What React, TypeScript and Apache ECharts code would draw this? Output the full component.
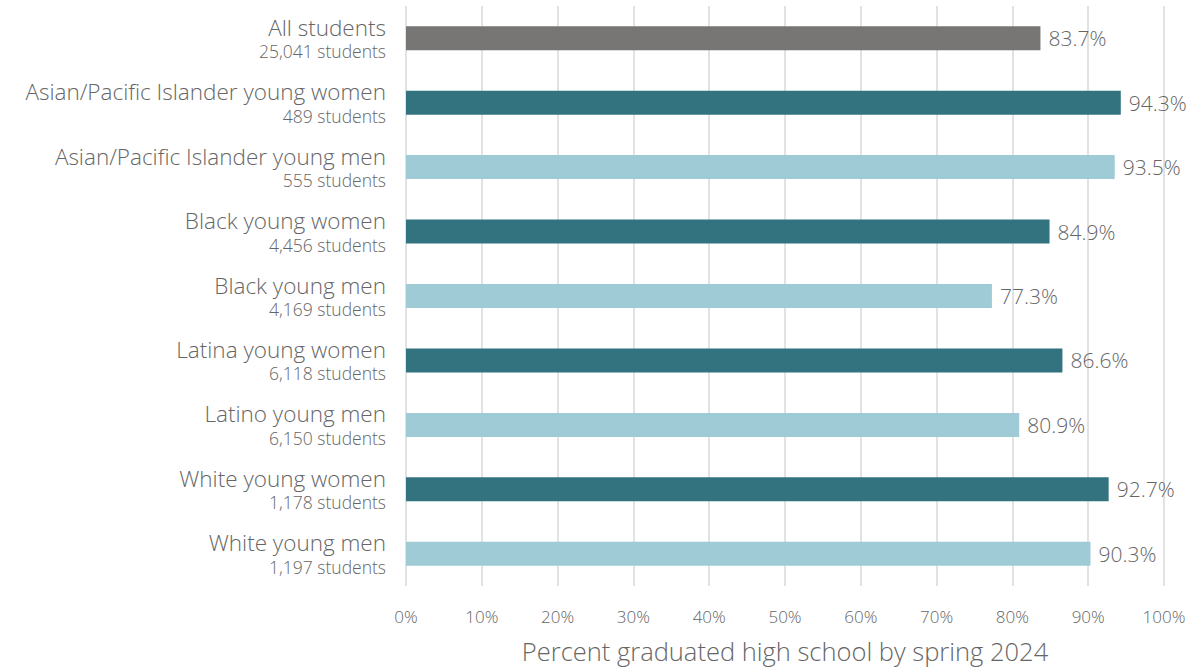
import React, { useEffect, useRef } from "react";
import * as echarts from "echarts";

const categories = [
  "All students",
  "Asian/Pacific Islander young women",
  "Asian/Pacific Islander young men",
  "Black young women",
  "Black young men",
  "Latina young women",
  "Latino young men",
  "White young women",
  "White young men",
];
const studentCounts = [
  "25,041 students",
  "489 students",
  "555 students",
  "4,456 students",
  "4,169 students",
  "6,118 students",
  "6,150 students",
  "1,178 students",
  "1,197 students",
];
const values = [83.7, 94.3, 93.5, 84.9, 77.3, 86.6, 80.9, 92.7, 90.3];
const groupType = ["all", "women", "men", "women", "men", "women", "men", "women", "men"];
const colorByType: Record<string, string> = {
  all: "#777674",
  women: "#337380",
  men: "#9fcbd7",
};
const xTicks = [0, 10, 20, 30, 40, 50, 60, 70, 80, 90, 100];

const FONT = "'Open Sans', 'DejaVu Sans', sans-serif";
const TEXT = "#666666";
const W = 300;

export default function App() {
  const ref = useRef<HTMLDivElement>(null);
  useEffect(() => {
    if (!ref.current) return;
    const chart = echarts.init(ref.current, undefined, { renderer: "svg" });
    chart.setOption({
      animation: false,
      textStyle: { fontFamily: FONT, fontWeight: W },
      grid: {
        left: 406,
        right: 23,
        top: 6,
        height: 580,
        containLabel: false,
        outerBoundsMode: "none",
      },
      xAxis: {
        type: "value",
        min: xTicks[0],
        max: xTicks[xTicks.length - 1],
        interval: 10,
        axisLine: { show: false },
        axisTick: { show: false },
        splitLine: { show: true, lineStyle: { color: "#d9d9d9", width: 1.5 } },
        axisLabel: {
          formatter: (v: number) => `${v}%`,
          color: TEXT,
          fontSize: 17,
          fontWeight: W,
          fontFamily: FONT,
          margin: 22,
        },
        name: "Percent graduated high school by spring 2024",
        nameLocation: "middle",
        nameGap: 52,
        nameTextStyle: { color: TEXT, fontSize: 25.5, fontWeight: W, fontFamily: FONT },
      },
      yAxis: {
        type: "category",
        inverse: true,
        data: categories,
        axisLine: { show: false },
        axisTick: { show: false },
        axisLabel: {
          margin: 20,
          formatter: (v: string, i: number) => `{a|${v}}\n{b|${studentCounts[i]}}`,
          rich: {
            a: { fontSize: 22.5, fontWeight: W, color: TEXT, fontFamily: FONT, lineHeight: 26, align: "right" },
            b: { fontSize: 17.5, fontWeight: W, color: TEXT, fontFamily: FONT, lineHeight: 22, align: "right" },
          },
        },
      },
      series: [
        {
          type: "bar",
          barWidth: 24,
          data: values.map((v, i) => ({
            value: v,
            itemStyle: { color: colorByType[groupType[i]] },
          })),
          label: {
            show: true,
            position: "right",
            distance: 8,
            formatter: (p: any) => `${p.value.toFixed(1)}%`,
            color: TEXT,
            fontSize: 21,
            fontWeight: W,
            fontFamily: FONT,
          },
        },
      ],
    });
    return () => chart.dispose();
  }, []);
  return (
    <div
      ref={ref}
      style={{ position: "absolute", left: 0, top: 0, width: 1187, height: 667, background: "#fff" }}
    />
  );
}
